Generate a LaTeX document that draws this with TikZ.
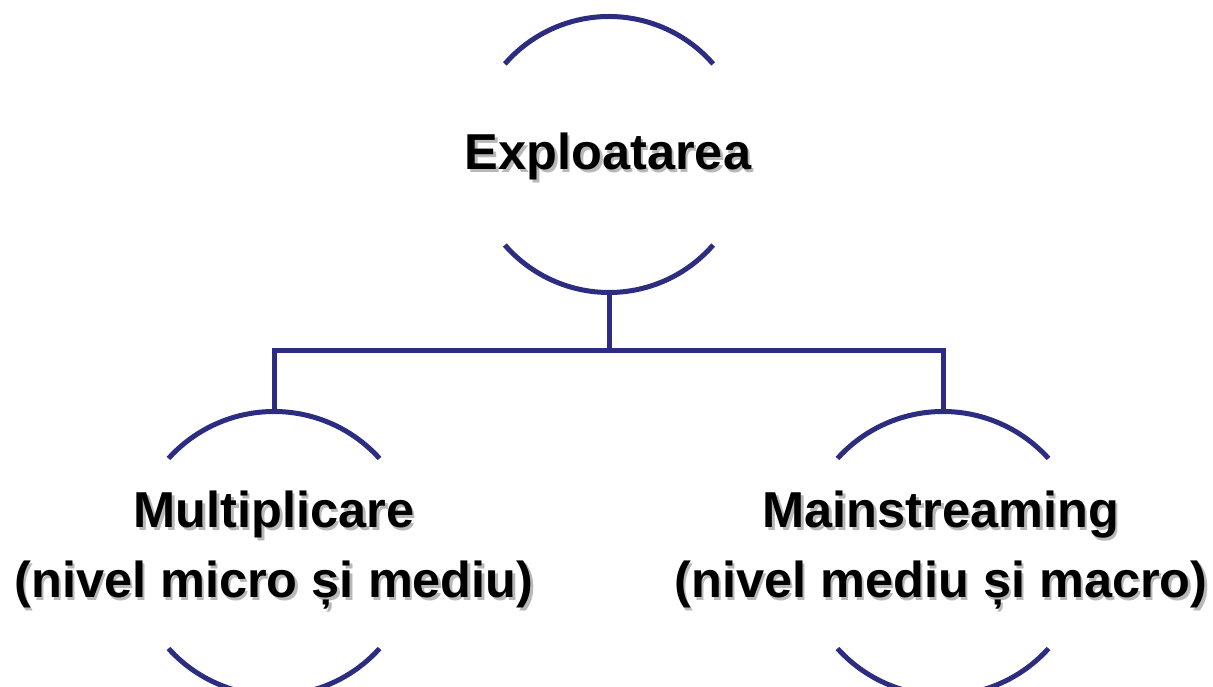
\documentclass[tikz,border=0pt]{standalone}
\usepackage{fontspec}
\setmainfont{Liberation Sans}
\definecolor{navy}{RGB}{44,44,128}
\newcommand\shtext[1]{\makebox[0pt][l]{\kern2.5pt\raisebox{-2.5pt}{\color{black!28}#1}}#1}
\begin{document}
\begin{tikzpicture}[x=1pt,y=1pt,
  arcline/.style={draw=navy,line width=5pt},
  conn/.style={draw=navy,line width=5pt},
  lbl/.style={font=\fontsize{50.5}{70}\selectfont\bfseries, text=black, inner sep=0pt, anchor=base}]
\useasboundingbox (0,0) rectangle (1213,687);
% top element
\coordinate (c0) at (609,532.5);
\draw[arcline] (c0) ++(41:138) arc[start angle=41,end angle=139,radius=138];
\draw[arcline] (c0) ++(221:138) arc[start angle=221,end angle=319,radius=138];
\coordinate (t0) at (609,394.5);
% left element
\coordinate (c1) at (274,133.5);
\draw[arcline] (c1) ++(42:142) arc[start angle=42,end angle=138,radius=142];
\draw[arcline] (c1) ++(222:142) arc[start angle=222,end angle=318,radius=142];
\coordinate (l0) at (274,275.5);
% right element
\coordinate (c2) at (943,133.5);
\draw[arcline] (c2) ++(42:142) arc[start angle=42,end angle=138,radius=142];
\draw[arcline] (c2) ++(222:142) arc[start angle=222,end angle=318,radius=142];
\coordinate (r0) at (943,275.5);
% connectors
\coordinate (hub) at (609,336);
\draw[conn] (t0) -- (hub);
\draw[conn] (l0) |- (hub) -| (r0);
% labels
\node[lbl] (ex) at (608,517) {\shtext{Exploatarea}};
\node[lbl] (mu) at (274,159) {\begin{tabular}[t]{@{}c@{}}\shtext{Multiplicare}\\\shtext{(nivel micro și mediu)}\end{tabular}};
\node[lbl] (ma) at (941,159) {\begin{tabular}[t]{@{}c@{}}\shtext{Mainstreaming}\\\shtext{(nivel mediu și macro)}\end{tabular}};
\end{tikzpicture}
\end{document}
